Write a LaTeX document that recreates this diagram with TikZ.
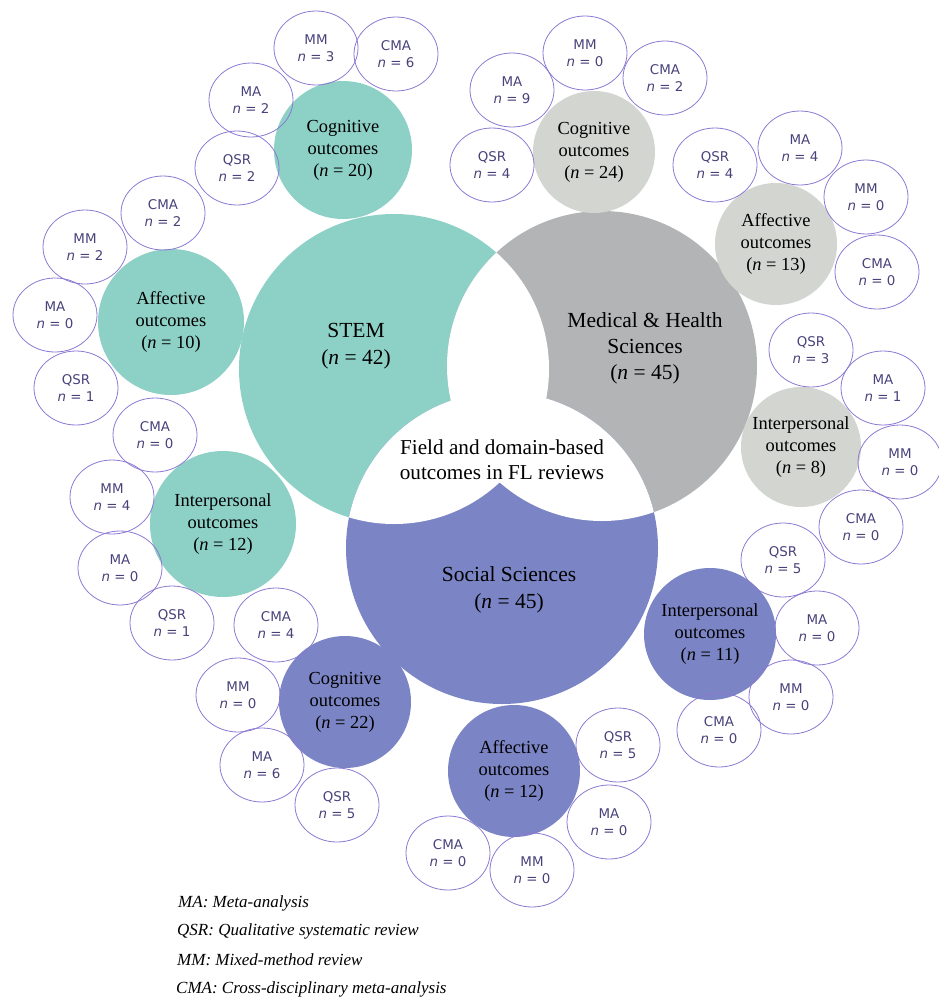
\documentclass[tikz,border=0pt]{standalone}
\usepackage{fontspec}
\setmainfont{Liberation Serif}
\newfontfamily\revfont{DejaVu Sans}
\usetikzlibrary{shapes.geometric}
\definecolor{stemfill}{RGB}{141,208,198}
\definecolor{medfill}{RGB}{178,180,182}
\definecolor{medlight}{RGB}{210,213,208}
\definecolor{socfill}{RGB}{123,132,196}
\definecolor{revline}{RGB}{140,120,210}
\definecolor{revtext}{RGB}{72,66,122}

\begin{document}
\begin{tikzpicture}[x=1pt,y=-1pt,
	rev/.style={ellipse,draw=revline,line width=0.8pt,minimum width=84pt,minimum height=74pt,inner sep=0pt,align=center,text=revtext,font=\revfont\fontsize{13.4}{17}\selectfont},
	outc/.style={circle,minimum size=#1,inner sep=0pt,align=center,font=\fontsize{18.4}{22}\selectfont},
	field/.style={align=center,font=\fontsize{21.5}{27}\selectfont},
	key/.style={anchor=west,inner sep=0pt,font=\itshape\fontsize{17}{20}\selectfont}]
	\useasboundingbox (0,0) rectangle (938,999);
	\coordinate (stemc) at (394,369);
	\coordinate (medc) at (602,366);
	\coordinate (socc) at (502,548);
	\fill [stemfill] (stemc) circle (155pt);
	\fill [medfill] (medc) circle (155pt);
	\fill [socfill] (socc) circle (156pt);
	\begin{scope}
		\clip (stemc) circle (155pt);
		\fill [white] (medc) circle (155pt);
		\fill [white] (socc) circle (156pt);
	\end{scope}
	\begin{scope}
		\clip (medc) circle (155pt);
		\fill [white] (socc) circle (156pt);
	\end{scope}
	\node [field] (stemtxt) at (356,346) {STEM\\(\textit{n} = 42)};
	\node [field,font=\fontsize{21.5}{26}\selectfont] (medtxt) at (645,348) {Medical \& Health\\Sciences\\(\textit{n} = 45)};
	\node [field] (soctxt) at (509,590) {Social Sciences\\(\textit{n} = 45)};
	\node [field,font=\fontsize{21.2}{25}\selectfont] (fieldtxt) at (502,460) {Field and domain-based\\outcomes in FL reviews};

	\node [outc=138pt,fill=stemfill] (stemcog) at (343,150) {Cognitive\\outcomes\\(\textit{n} = 20)};
	\node [outc=146pt,fill=stemfill] (stemaff) at (171,322) {Affective\\outcomes\\(\textit{n} = 10)};
	\node [outc=146pt,fill=stemfill] (steminter) at (223,524) {Interpersonal\\outcomes\\(\textit{n} = 12)};
	\node [outc=122pt,fill=medlight] (medcog) at (594,152) {Cognitive\\outcomes\\(\textit{n} = 24)};
	\node [outc=122pt,fill=medlight] (medaff) at (776,244) {Affective\\outcomes\\(\textit{n} = 13)};
	\node [outc=120pt,fill=medlight] (medinter) at (801,447) {Interpersonal\\outcomes\\(\textit{n} = 8)};
	\node [outc=132pt,fill=socfill] (soccog) at (345,702) {Cognitive\\outcomes\\(\textit{n} = 22)};
	\node [outc=132pt,fill=socfill] (socaff) at (514,771) {Affective\\outcomes\\(\textit{n} = 12)};
	\node [outc=132pt,fill=socfill] (socinter) at (710,634) {Interpersonal\\outcomes\\(\textit{n} = 11)};

	\node [rev] (scmm) at (316,48) {MM\\\textit{n} = 3};
	\node [rev] (sccma) at (396,54) {CMA\\\textit{n} = 6};
	\node [rev] (scma) at (251,100) {MA\\\textit{n} = 2};
	\node [rev] (scqsr) at (237,168) {QSR\\\textit{n} = 2};
	\node [rev] (sacma) at (163,213) {CMA\\\textit{n} = 2};
	\node [rev] (samm) at (85,247) {MM\\\textit{n} = 2};
	\node [rev] (sama) at (55,315) {MA\\\textit{n} = 0};
	\node [rev] (saqsr) at (76,388) {QSR\\\textit{n} = 1};
	\node [rev] (sicma) at (155,435) {CMA\\\textit{n} = 0};
	\node [rev] (simm) at (112,497) {MM\\\textit{n} = 4};
	\node [rev] (sima) at (120,568) {MA\\\textit{n} = 0};
	\node [rev] (siqsr) at (172,623) {QSR\\\textit{n} = 1};

	\node [rev] (mcmm) at (585,53) {MM\\\textit{n} = 0};
	\node [rev] (mccma) at (665,78) {CMA\\\textit{n} = 2};
	\node [rev] (mcma) at (512,90) {MA\\\textit{n} = 9};
	\node [rev] (mcqsr) at (492,165) {QSR\\\textit{n} = 4};
	\node [rev] (maqsr) at (715,165) {QSR\\\textit{n} = 4};
	\node [rev] (mama) at (800,148) {MA\\\textit{n} = 4};
	\node [rev] (mamm) at (866,197) {MM\\\textit{n} = 0};
	\node [rev] (macma) at (877,272) {CMA\\\textit{n} = 0};
	\node [rev] (miqsr) at (811,350) {QSR\\\textit{n} = 3};
	\node [rev] (mima) at (883,388) {MA\\\textit{n} = 1};
	\node [rev] (mimm) at (900,462) {MM\\\textit{n} = 0};
	\node [rev] (micma) at (861,527) {CMA\\\textit{n} = 0};

	\node [rev] (oiqsr) at (783,560) {QSR\\\textit{n} = 5};
	\node [rev] (oima) at (817,628) {MA\\\textit{n} = 0};
	\node [rev] (oimm) at (791,697) {MM\\\textit{n} = 0};
	\node [rev] (oicma) at (719,730) {CMA\\\textit{n} = 0};
	\node [rev] (oaqsr) at (618,745) {QSR\\\textit{n} = 5};
	\node [rev] (oama) at (609,822) {MA\\\textit{n} = 0};
	\node [rev] (oamm) at (532,870) {MM\\\textit{n} = 0};
	\node [rev] (oacma) at (448,853) {CMA\\\textit{n} = 0};
	\node [rev] (occma) at (276,625) {CMA\\\textit{n} = 4};
	\node [rev] (ocmm) at (238,695) {MM\\\textit{n} = 0};
	\node [rev] (ocma) at (262,765) {MA\\\textit{n} = 6};
	\node [rev] (ocqsr) at (337,805) {QSR\\\textit{n} = 5};

	\node [key] (keyma) at (178,903) {MA: Meta-analysis};
	\node [key] (keyqsr) at (177,931) {QSR: Qualitative systematic review};
	\node [key] (keymm) at (177,960) {MM: Mixed-method review};
	\node [key] (keycma) at (176,989) {CMA: Cross-disciplinary meta-analysis};
\end{tikzpicture}
\end{document}
